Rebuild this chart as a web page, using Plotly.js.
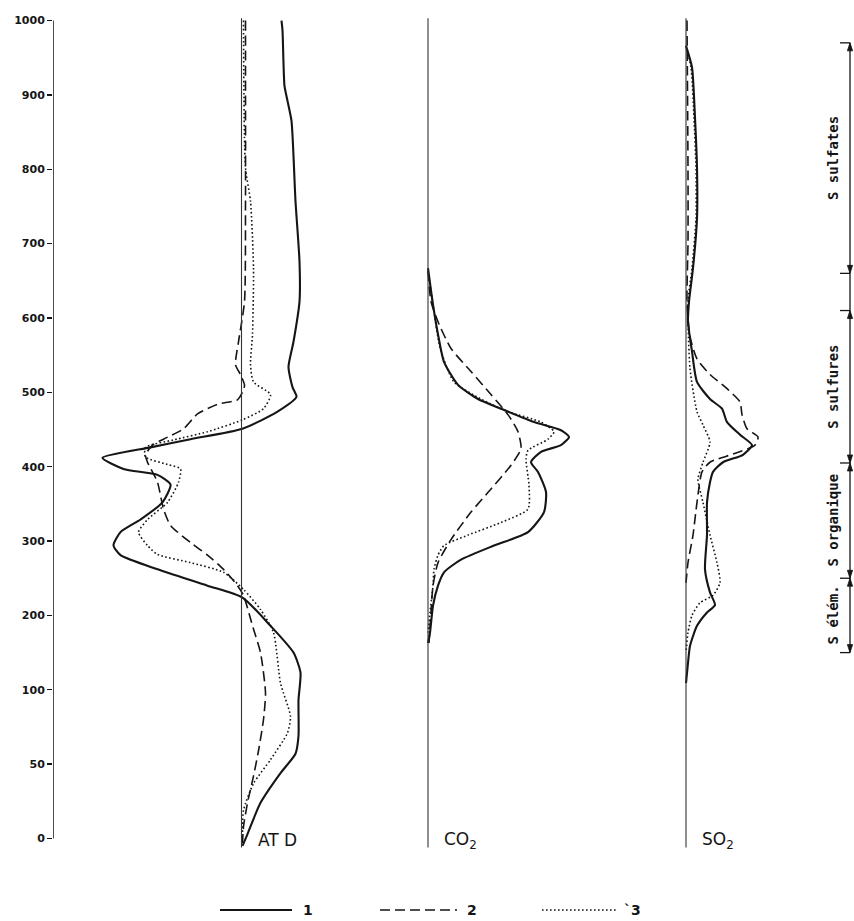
<!DOCTYPE html>
<html>
<head>
<meta charset="utf-8">
<script src="https://cdn.plot.ly/plotly-3.0.1.min.js"></script>
<style>html,body{margin:0;padding:0;background:#fff;}#chart{width:854px;height:921px;}</style>
</head>
<body>
<div id="chart"></div>
<script>
// ---- Temperature axis (non-linear: 0,50,100 then hundreds) ----
const tickTemps = [0, 50, 100, 200, 300, 400, 500, 600, 700, 800, 900, 1000];
const tickLabels = ["0", "50", "100", "200", "300", "400", "500", "600", "700", "800", "900", "1000"];

// ---- ATD panel: temperature (°C) and deflection from the baseline ----
const atd1_T = [1000, 987, 912, 892, 865, 757, 676, 622, 568, 534, 507, 494, 474, 451, 437, 426, 412, 397, 389, 376, 352, 329, 312, 294, 281, 262, 240, 224, 186, 150, 123, 93, 69, 57, 44, 24, 3, -5];
const atd1_D = [40, 41, 43, 46, 50, 54, 58, 58, 52, 47, 51, 55, 36, 1, -51, -91, -139, -118, -84, -71, -79, -101, -121, -128, -121, -84, -34, 1, 29, 52, 59, 57, 57, 54, 39, 19, 6, 1];
const atd2_T = [1000, 892, 757, 622, 568, 537, 524, 510, 503, 490, 484, 471, 451, 437, 429, 416, 406, 379, 343, 321, 298, 281, 262, 240, 227, 186, 150, 98, 80, 59, 42, 24, 8, -3];
const atd2_D = [4, 4, 4, 3, -3, -6, -1, 3, 2, -4, -24, -44, -58, -78, -89, -96, -94, -84, -78, -71, -51, -34, -18, -4, 2, 11, 19, 24, 22, 17, 12, 6, 2, 1];
const atd3_T = [1000, 802, 757, 667, 578, 537, 514, 497, 478, 463, 447, 436, 426, 413, 403, 397, 379, 352, 329, 312, 294, 282, 271, 258, 235, 208, 177, 109, 82, 71, 53, 37, 19, 3];
const atd3_D = [2, 4, 9, 12, 11, 9, 12, 29, 22, 1, -34, -68, -96, -96, -74, -61, -63, -74, -94, -103, -94, -84, -51, -18, 2, 19, 32, 39, 49, 46, 29, 12, 2, 1];

// ---- CO2 panel ----
const co1_T = [667, 618, 578, 541, 510, 491, 478, 460, 449, 440, 429, 420, 406, 393, 366, 339, 312, 294, 275, 258, 240, 213, 177, 163];
const co1_D = [0, 5, 10, 16, 30, 50, 73, 106, 133, 141, 133, 113, 103, 110, 118, 116, 100, 66, 33, 16, 10, 5, 2, 0];
const co2_T = [663, 622, 595, 559, 528, 497, 470, 447, 424, 402, 370, 339, 302, 271, 240, 204, 163];
const co2_D = [0, 3, 10, 23, 43, 63, 80, 90, 93, 83, 63, 43, 23, 10, 5, 3, 1];
const co3_T = [663, 609, 560, 514, 491, 474, 460, 447, 437, 422, 410, 375, 343, 325, 308, 294, 281, 262, 240, 204, 177];
const co3_D = [0, 6, 12, 26, 53, 80, 113, 126, 120, 100, 98, 101, 100, 73, 40, 16, 10, 6, 5, 2, 0];

// ---- SO2 panel ----
const so1_T = [966, 937, 869, 802, 734, 667, 622, 595, 555, 514, 491, 478, 460, 443, 429, 416, 406, 393, 379, 352, 308, 262, 231, 214, 204, 186, 159, 136, 109];
const so1_D = [0, 6, 9, 11, 11, 7, 3, 2, 6, 11, 24, 36, 41, 54, 66, 57, 37, 27, 24, 21, 21, 19, 24, 29, 21, 11, 4, 2, 0];
const so2_T = [1000, 800, 700, 622, 575, 545, 524, 505, 487, 470, 451, 440, 429, 417, 406, 393, 352, 308, 271, 244];
const so2_D = [1, 2, 2, 1, 4, 11, 24, 41, 54, 56, 61, 72, 69, 47, 24, 16, 11, 7, 2, 0];
const so3_T = [966, 937, 869, 802, 734, 667, 622, 532, 474, 456, 433, 406, 383, 352, 308, 271, 244, 227, 217, 200, 177, 150];
const so3_D = [0, 5, 8, 10, 10, 6, 2, 4, 11, 17, 24, 17, 12, 17, 24, 31, 34, 27, 14, 6, 2, 0];

// ---- Panels and bracket on the right ----
const panelNames = ["AT D", "CO<sub>2</sub>", "SO<sub>2</sub>"];
const panelBase = [241.5, 428, 686];
const bracketBounds = [970, 660, 610, 405, 250, 150];
const bracketLabels = ["S sulfates", "S sulfures", "S organique", "S élém."];
const bracketSegs = [[0, 1], [2, 3], [3, 4], [4, 5]];
const legendNames = ["1", "2", "`3"];

// temperature -> position on the (piecewise-linear) axis
function toPos(t) { return t <= 100 ? t / 50 : 1 + t / 100; }

const INK = "#151515";
const styles = [
  {width: 2.1, dash: "solid"},
  {width: 1.6, dash: "10px,5px"},
  {width: 1.6, dash: "1.6px,2.4px"}
];

function trace(T, D, base, s) {
  return {
    x: D.map(d => base + d),
    y: T.map(toPos),
    mode: "lines",
    line: {color: INK, width: styles[s].width, dash: styles[s].dash, shape: "spline", smoothing: 0.6},
    hoverinfo: "skip",
    showlegend: false
  };
}

const data = [
  trace(atd1_T, atd1_D, panelBase[0], 0),
  trace(atd2_T, atd2_D, panelBase[0], 1),
  trace(atd3_T, atd3_D, panelBase[0], 2),
  trace(co1_T, co1_D, panelBase[1], 0),
  trace(co2_T, co2_D, panelBase[1], 1),
  trace(co3_T, co3_D, panelBase[1], 2),
  trace(so1_T, so1_D, panelBase[2], 0),
  trace(so2_T, so2_D, panelBase[2], 1),
  trace(so3_T, so3_D, panelBase[2], 2)
];

// pixel geometry of the page
const pxPerUnit = 74.36, y0px = 838.5, H = 921;
const yRange = [(y0px - H) / pxPerUnit, y0px / pxPerUnit];
const pxToPos = py => (y0px - py) / pxPerUnit;
const PXY = 1 / pxPerUnit;   // one pixel in y units

const shapes = [];
const annotations = [];

// left axis line
shapes.push({type: "line", xref: "x", yref: "y", x0: 53, x1: 53, y0: 0, y1: toPos(1000), line: {color: INK, width: 1.5}});

// panel baselines and labels
panelBase.forEach((b, i) => {
  shapes.push({type: "line", xref: "x", yref: "y", x0: b, x1: b, y0: toPos(-6), y1: toPos(1003), line: {color: "#333", width: 1.1}});
  annotations.push({x: b + 14, y: pxToPos(840), xref: "x", yref: "y", xanchor: "left", yanchor: "middle",
    text: panelNames[i], showarrow: false, font: {family: "DejaVu Sans, Arial, sans-serif", size: 17, color: INK}});
});

// right bracket
const bx = 850;
shapes.push({type: "line", xref: "x", yref: "y", x0: bx, x1: bx, y0: toPos(bracketBounds[5]), y1: toPos(bracketBounds[0]), line: {color: INK, width: 1.3}});
bracketBounds.forEach(t => {
  shapes.push({type: "line", xref: "x", yref: "y", x0: bx - 10, x1: bx, y0: toPos(t), y1: toPos(t), line: {color: INK, width: 1.3}});
});
function arrowHead(tipY, dir) {
  // dir = +1 : arrow pointing up (tip at top), -1 : pointing down
  const baseY = tipY - dir * 8 * PXY;
  return {type: "path", xref: "x", yref: "y",
    path: `M ${bx},${tipY} L ${bx - 2.6},${baseY} L ${bx + 2.6},${baseY} Z`,
    fillcolor: INK, line: {color: INK, width: 0.8}};
}
bracketSegs.forEach((seg, i) => {
  const top = toPos(bracketBounds[seg[0]]), bot = toPos(bracketBounds[seg[1]]);
  shapes.push(arrowHead(top, 1));
  shapes.push(arrowHead(bot, -1));
  annotations.push({x: 833, y: (top + bot) / 2, xref: "x", yref: "y", xanchor: "center", yanchor: "middle",
    text: bracketLabels[i], textangle: -90, showarrow: false,
    font: {family: "DejaVu Sans Mono, monospace", size: 14, weight: "bold", color: INK}});
});

// bottom legend (line samples + numbers)
const legY = pxToPos(910);
const legX = [[220, 292, 308], [380, 457, 472], [542, 617, 632]];
legX.forEach((lx, i) => {
  shapes.push({type: "line", xref: "x", yref: "y", x0: lx[0], x1: lx[1], y0: legY, y1: legY,
    line: {color: INK, width: styles[i].width, dash: styles[i].dash}});
  annotations.push({x: lx[2], y: legY, xref: "x", yref: "y", xanchor: "center", yanchor: "middle",
    text: legendNames[i], showarrow: false, font: {family: "DejaVu Sans, Arial, sans-serif", size: 14, weight: "bold", color: INK}});
});

const layout = {
  width: 854, height: 921,
  margin: {l: 53, r: 0, t: 0, b: 0},
  paper_bgcolor: "#fff", plot_bgcolor: "#fff",
  showlegend: false,
  hovermode: false,
  xaxis: {range: [53, 854], visible: false, fixedrange: true},
  yaxis: {
    range: yRange, fixedrange: true,
    tickmode: "array", tickvals: tickTemps.map(toPos), ticktext: tickLabels,
    ticks: "outside", ticklen: 5, tickwidth: 1.3, tickcolor: INK,
    showgrid: false, zeroline: false, showline: false,
    tickfont: {family: "DejaVu Sans, Arial, sans-serif", size: 11, weight: "bold", color: INK}
  },
  shapes: shapes,
  annotations: annotations
};

Plotly.newPlot("chart", data, layout, {staticPlot: true, displayModeBar: false});
</script>
</body>
</html>
